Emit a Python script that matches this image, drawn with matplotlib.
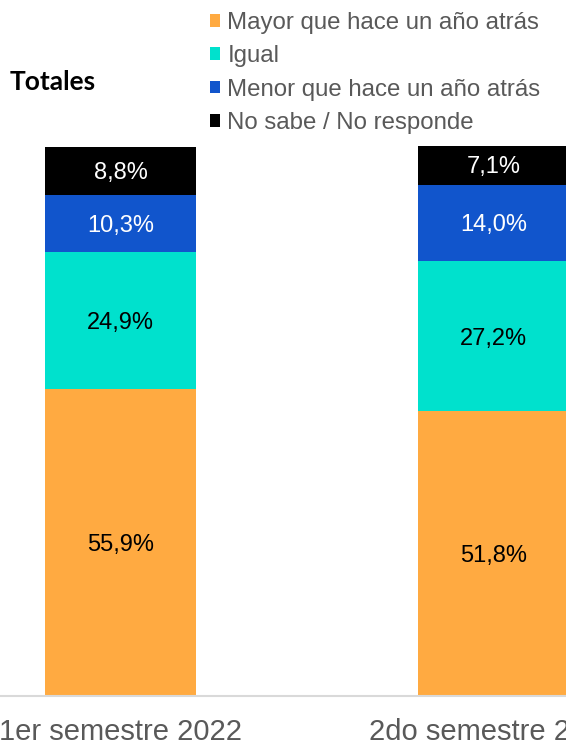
import matplotlib.pyplot as plt
from matplotlib.patches import Patch

# Data
periods = ["1er semestre 2022", "2do semestre 2022"]
series = ["Mayor que hace un año atrás", "Igual",
          "Menor que hace un año atrás", "No sabe / No responde"]
mayor = [55.9, 51.8]
igual = [24.9, 27.2]
menor = [10.3, 14.0]
nsnr = [8.8, 7.1]

colors = ["#FFAA41", "#00E1CD", "#1155CC", "#000000"]
label_colors = ["black", "black", "white", "white"]

plt.rcParams["font.family"] = ["Liberation Sans", "DejaVu Sans"]

fig = plt.figure(figsize=(5.66, 7.45), dpi=100)
# Axes spans full width; the second bar runs off the right edge as in the source.
ax = fig.add_axes([0.0, 49 / 745, 1.0, 550 / 745])

x = list(range(len(periods)))
bottom = [0.0] * len(periods)
for vals, col, tcol in zip([mayor, igual, menor, nsnr], colors, label_colors):
    bars = ax.bar(x, vals, width=0.405, bottom=bottom, color=col,
                  linewidth=0)
    for xi, b, v in zip(x, bottom, vals):
        ax.text(xi, b + v / 2, f"{v:.1f}%".replace(".", ","),
                ha="center", va="center_baseline", fontsize=17, color=tcol)
    bottom = [b + v for b, v in zip(bottom, vals)]

ax.set_xlim(-120.5 / 373, 1 + (566 - 493.5) / 373)
ax.set_ylim(0, 100)
ax.set_xticks(x)
ax.set_xticklabels(periods, fontsize=21, color="#595959")
ax.tick_params(axis="x", length=0, pad=16)
ax.set_yticks([])
for side in ["top", "right", "left"]:
    ax.spines[side].set_visible(False)
ax.spines["bottom"].set_color("#D9D9D9")
ax.spines["bottom"].set_linewidth(1.5)

fig.text(10 / 566, 1 - 82 / 745, "Totales", fontsize=19, fontweight="bold",
         family="Lato", ha="left", va="center")

handles = [Patch(facecolor=c, edgecolor="none") for c in colors]
leg = fig.legend(handles, series, loc="upper left",
                 bbox_to_anchor=(210 / 566, 1 - 12 / 745),
                 frameon=False, fontsize=17.3, handlelength=0.42,
                 handleheight=0.42, handletextpad=0.3, labelspacing=0.47,
                 borderpad=0, borderaxespad=0)
for t in leg.get_texts():
    t.set_color("#595959")

fig.savefig("out.png", dpi=100)
